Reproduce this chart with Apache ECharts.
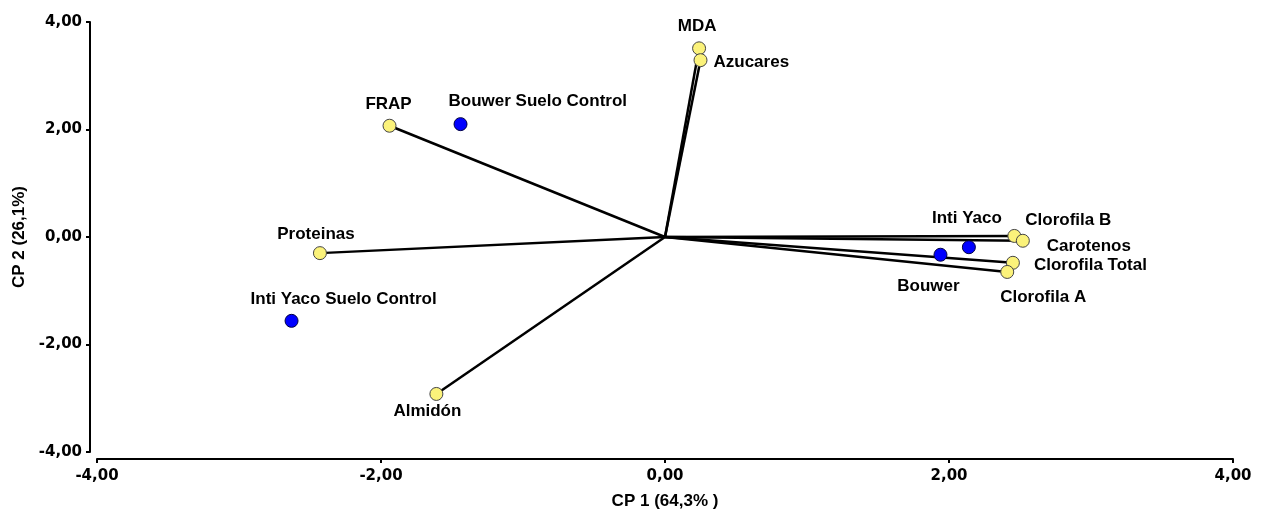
<!DOCTYPE html>
<html>
<head>
<meta charset="utf-8">
<script src="https://cdn.jsdelivr.net/npm/echarts@6/dist/echarts.min.js"></script>
<style>
html,body{margin:0;padding:0;background:#fff;}
#chart{width:1267px;height:510px;}
</style>
</head>
<body>
<div id="chart"></div>
<script>
// Variables (loadings)
const varNames = ['MDA', 'Azucares', 'FRAP', 'Proteinas', 'Almidón', 'Clorofila B', 'Carotenos', 'Clorofila Total', 'Clorofila A'];
const varX = [0.24, 0.25, -1.94, -2.43, -1.61, 2.46, 2.52, 2.45, 2.41];
const varY = [3.51, 3.29, 2.07, -0.30, -2.92, 0.02, -0.07, -0.48, -0.65];
// Observations (scores)
const obsNames = ['Bouwer Suelo Control', 'Inti Yaco Suelo Control', 'Inti Yaco', 'Bouwer'];
const obsX = [-1.44, -2.63, 2.14, 1.94];
const obsY = [2.10, -1.56, -0.19, -0.33];
// Axis ticks
const axisMin = -4, axisMax = 4, axisStep = 2;
const xName = 'CP 1 (64,3% )';
const yName = 'CP 2 (26,1%)';

// Label placement (layout only): [align, dx, dy]
const labelLayout = {
  'MDA': ['center', -2, -22],
  'Azucares': ['left', 13, 2],
  'FRAP': ['center', -1, -21],
  'Proteinas': ['center', -4, -19],
  'Almidón': ['center', -9, 17],
  'Clorofila B': ['left', 11, -16],
  'Carotenos': ['left', 24, 6],
  'Clorofila Total': ['left', 21, 3],
  'Clorofila A': ['left', -7, 25],
  'Bouwer Suelo Control': ['left', -12, -23],
  'Inti Yaco Suelo Control': ['left', -41, -22],
  'Inti Yaco': ['center', -2, -29],
  'Bouwer': ['center', -12, 32]
};

const labelFont = {fontFamily: 'Liberation Sans', fontWeight: 'bold', fontSize: 17, color: '#000', opacity: 1};
const fmt = v => v.toFixed(2).replace('.', ',');

function labelFor(name) {
  const l = labelLayout[name];
  return Object.assign({show: true, position: 'inside', align: l[0], verticalAlign: 'middle', offset: [l[1], l[2]], formatter: name}, labelFont);
}

const series = [];
varNames.forEach((n, i) => {
  series.push({
    type: 'line', silent: true, symbol: 'none', z: 2,
    lineStyle: {color: '#000', width: 2.5},
    data: [[0, 0], [varX[i], varY[i]]]
  });
});
series.push({
  type: 'scatter', z: 5, symbol: 'circle', symbolSize: 13,
  itemStyle: {color: '#fbf27a', borderColor: '#444', borderWidth: 1, opacity: 1},
  data: varNames.map((n, i) => ({name: n, value: [varX[i], varY[i]], label: labelFor(n)}))
});
series.push({
  type: 'scatter', z: 5, symbol: 'circle', symbolSize: 13,
  itemStyle: {color: '#0000ff', borderColor: '#000044', borderWidth: 1, opacity: 1},
  data: obsNames.map((n, i) => ({name: n, value: [obsX[i], obsY[i]], label: labelFor(n)}))
});

const axisCommon = {
  type: 'value', min: axisMin, max: axisMax, interval: axisStep,
  axisLine: {show: true, onZero: false, lineStyle: {color: '#000', width: 2}},
  axisTick: {show: true, length: 4, lineStyle: {color: '#000', width: 2}},
  splitLine: {show: false},
  axisLabel: {formatter: fmt, fontFamily: 'DejaVu Sans', fontWeight: 'bold', fontSize: 15, color: '#000'},
  nameLocation: 'middle',
  nameTextStyle: {fontFamily: 'Liberation Sans', fontWeight: 'bold', fontSize: 17, color: '#000'}
};

const chart = echarts.init(document.getElementById('chart'), null, {renderer: 'canvas'});
chart.setOption({
  animation: false,
  backgroundColor: '#fff',
  grid: {left: 97, right: 34, top: 22, bottom: 58, containLabel: false, outerBoundsMode: 'none'},
  xAxis: Object.assign({}, axisCommon, {
    offset: 7, name: xName, nameGap: 34,
    axisLabel: Object.assign({}, axisCommon.axisLabel, {margin: 10})
  }),
  yAxis: Object.assign({}, axisCommon, {
    offset: 7, name: yName, nameGap: 62,
    axisLabel: Object.assign({}, axisCommon.axisLabel, {margin: 8})
  }),
  series: series
});
</script>
</body>
</html>
